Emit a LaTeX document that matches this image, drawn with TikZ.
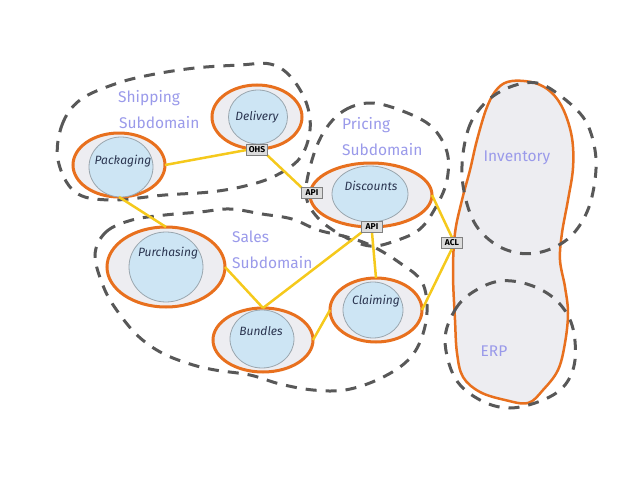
\documentclass[tikz,border=0pt]{standalone}
\usepackage{fontspec}
\setmainfont{Fira Sans}
\usetikzlibrary{shapes.geometric}
\pgfdeclarelayer{top}
\pgfsetlayers{main,top}
\definecolor{orng}{HTML}{E8701E}
\definecolor{outfill}{HTML}{EDEDF1}
\definecolor{coreblue}{HTML}{CDE5F4}
\definecolor{coreline}{HTML}{9AA6AE}
\definecolor{ylw}{HTML}{F5C91C}
\definecolor{dashc}{HTML}{585858}
\definecolor{lav}{HTML}{9A9AEA}
\definecolor{navy}{HTML}{2B3550}
\definecolor{tagfill}{HTML}{DCDCDC}
\tikzset{
  dom/.style={ellipse, draw=orng, line width=3pt, fill=outfill, inner sep=0pt, outer sep=0pt},
  core/.style={ellipse, draw=coreline, line width=0.8pt, fill=coreblue, inner sep=0pt, outer sep=0pt},
  ctext/.style={text=navy, font=\itshape\fontsize{12}{13}\selectfont, inner sep=0pt},
  link/.style={draw=ylw, line width=2.5pt},
  bnd/.style={draw=dashc, line width=3pt, dash pattern=on 11pt off 9pt},
  tag/.style={draw=gray, fill=tagfill, line width=0.6pt, font=\bfseries\fontsize{8.5}{9}\selectfont, inner sep=0pt, outer sep=0pt, minimum width=21pt, minimum height=11pt},
  lbl/.style={text=lav, font=\fontsize{15.5}{17}\selectfont, anchor=west, inner sep=0pt}
}
\begin{document}
\begin{tikzpicture}[x=1pt,y=-1pt]
\useasboundingbox (0,0) rectangle (638,479);
% big blob
\draw[draw=orng, line width=2.5pt, fill=outfill] plot[smooth cycle, tension=0.6] coordinates {
 (512,81) (535,83) (552,93) (564,111) (572,138) (573,168) (568,200) (562,233) (560,260)
 (565,287) (568,313) (565,343) (558,370) (543,390) (528,403) (505,400) (480,392) (463,377)
 (457,353) (455,320) (453,273) (455,233) (462,200) (470,170) (477,140) (487,107) (498,88)};
% dashed boundaries
\draw[bnd] plot[smooth cycle, tension=0.6] coordinates {
 (58,160) (62,125) (80,100) (115,84) (150,75) (195,68) (240,65) (270,64) (290,76) (306,102)
 (310,130) (300,158) (275,176) (245,186) (210,192) (165,195) (110,200) (75,192)};
\draw[bnd] plot[smooth cycle, tension=0.6] coordinates {
 (325,130) (345,110) (372,103) (405,112) (432,127) (447,152) (447,180) (437,205) (420,229)
 (395,241) (370,246) (343,236) (318,218) (306,195) (312,160)};
\draw[bnd] plot[smooth cycle, tension=0.6] coordinates {
 (95,255) (106,232) (132,220) (165,215) (200,212) (230,209) (262,214) (292,219) (318,230)
 (347,237) (372,246) (400,263) (422,282) (427,312) (420,342) (405,363) (377,380) (345,390)
 (313,390) (280,384) (250,375) (215,370) (190,364) (162,353) (138,336) (118,312) (104,288)};
\draw[bnd] plot[smooth cycle, tension=0.6] coordinates {
 (462,175) (468,130) (485,103) (510,87) (537,83) (562,97) (585,120) (595,150) (595,180)
 (587,212) (570,237) (545,251) (518,253) (492,242) (472,218)};
\draw[bnd] plot[smooth cycle, tension=0.6] coordinates {
 (445,340) (455,310) (473,292) (500,281) (530,285) (556,300) (572,325) (575,360) (565,385)
 (543,400) (510,408) (480,400) (455,378)};
% labels
\node[lbl] (lship) at (118,98) {Shipping};
\node[lbl] (lshipsub) at (119,123) {Subdomain};
\node[lbl] (lpric) at (342,125) {Pricing};
\node[lbl] (lpricsub) at (342,150) {Subdomain};
\node[lbl] (lsales) at (232,237) {Sales};
\node[lbl] (lsalessub) at (232,263) {Subdomain};
\node[lbl, anchor=center] (linv) at (517,158) {Inventory};
\node[lbl, anchor=center] (lerp) at (494,351) {ERP};
% domain ellipses
\node[dom, minimum width=92pt, minimum height=64pt] (pack) at (119,165) {};
\node[core, minimum width=64pt, minimum height=60pt] (packin) at (121,167) {};
\node[ctext] (tpack) at (123,161) {Packaging};
\node[dom, minimum width=90pt, minimum height=64pt] (deliv) at (257,117) {};
\node[core, minimum width=59pt, minimum height=54pt] (delivin) at (258,117) {};
\node[ctext] (tdeliv) at (257,117) {Delivery};
\node[dom, minimum width=122pt, minimum height=64pt] (disc) at (371,195) {};
\node[core, minimum width=76pt, minimum height=56pt] (discin) at (370,194) {};
\node[ctext] (tdisc) at (371,186) {Discounts};
\node[dom, minimum width=118pt, minimum height=80pt] (purch) at (166,267) {};
\node[core, minimum width=74pt, minimum height=70pt] (purchin) at (166,267) {};
\node[ctext] (tpurch) at (168,253) {Purchasing};
\node[dom, minimum width=100pt, minimum height=64pt] (bund) at (263,340) {};
\node[core, minimum width=64pt, minimum height=58pt] (bundin) at (262,339) {};
\node[ctext] (tbund) at (261,331) {Bundles};
\node[dom, minimum width=92pt, minimum height=64pt] (claim) at (376,310) {};
\node[core, minimum width=60pt, minimum height=56pt] (claimin) at (373,310) {};
\node[ctext] (tclaim) at (376,301) {Claiming};
% interface boxes, on the top layer
\begin{pgfonlayer}{top}
\node[tag] (ohs) at (257,150) {OHS};
\node[tag] (apia) at (312,193) {API};
\node[tag] (apib) at (372,227) {API};
\node[tag] (acl) at (452,243) {ACL};
\end{pgfonlayer}
% connectors
\draw[link] (pack.east) -- (ohs.west);
\draw[link] (ohs.south east) -- (apia.north west);
\draw[link] (pack.south) -- (purch.north);
\draw[link] (purch.east) -- (bund.north);
\draw[link] (bund.north) -- (apib.south west);
\draw[link] (apib.south) -- (claim.north);
\draw[link] (bund.east) -- (claim.west);
\draw[link] (claim.east) -- (acl.south);
\draw[link] (disc.east) -- (acl.north);
\end{tikzpicture}
\end{document}
